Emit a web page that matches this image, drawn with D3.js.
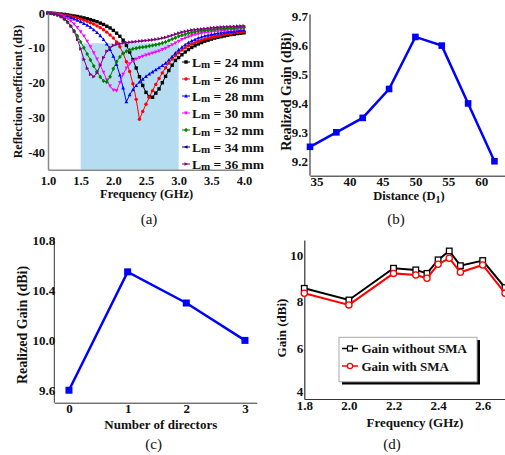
<!DOCTYPE html>
<html><head><meta charset="utf-8">
<script src="https://cdn.jsdelivr.net/npm/d3@7"></script>
<style>
body{margin:0;background:#fff;}
svg{display:block;}
text{font-family:"Liberation Serif","Times New Roman",serif;font-weight:bold;fill:#111;}
</style></head>
<body>
<script>
// ---------- Panel (a) data ----------
const freqA = [1.00,1.05,1.10,1.15,1.20,1.25,1.30,1.35,1.40,1.45,1.50,1.55,1.60,1.65,1.70,1.75,1.80,1.85,1.90,1.95,
2.00,2.05,2.10,2.15,2.20,2.25,2.30,2.35,2.40,2.45,2.50,2.55,2.60,2.65,2.70,2.75,2.80,2.85,2.90,2.95,
3.00,3.05,3.10,3.15,3.20,3.25,3.30,3.35,3.40,3.45,3.50,3.55,3.60,3.65,3.70,3.75,3.80,3.85,3.90,3.95,4.00];
const lm24 = [0,-0.05,-0.1,-0.2,-0.3,-0.4,-0.55,-0.7,-0.85,-1.0,-1.2,-1.4,-1.65,-1.9,-2.2,-2.5,-2.9,-3.3,-3.8,-4.3,
-5.0,-5.8,-6.7,-7.8,-9.3,-11.2,-13.4,-15.8,-18.3,-20.8,-22.8,-24.0,-24.2,-23.0,-21.8,-20.0,-18.2,-16.5,-15.0,-13.6,
-12.8,-12.0,-11.2,-10.5,-9.9,-9.4,-8.9,-8.5,-8.1,-7.8,-7.5,-7.2,-7.0,-6.8,-6.6,-6.4,-6.2,-6.1,-5.9,-5.8,-5.7];
const lm26 = [0,-0.05,-0.15,-0.25,-0.4,-0.55,-0.75,-0.95,-1.2,-1.45,-1.75,-2.05,-2.4,-2.8,-3.2,-3.7,-4.2,-4.8,-5.5,-6.3,
-7.2,-8.3,-9.7,-11.6,-14.0,-16.8,-20.3,-24.8,-30.5,-28.3,-26.2,-24.2,-22.3,-20.5,-18.8,-17.2,-15.7,-14.4,-13.2,-12.2,
-11.4,-10.6,-10.0,-9.4,-8.9,-8.5,-8.1,-7.8,-7.5,-7.2,-7.0,-6.8,-6.6,-6.4,-6.2,-6.0,-5.9,-5.7,-5.6,-5.5,-5.4];
const lm28 = [0,-0.05,-0.2,-0.35,-0.55,-0.8,-1.05,-1.35,-1.7,-2.1,-2.5,-3.0,-3.5,-4.1,-4.8,-5.6,-6.5,-7.6,-8.9,-10.5,
-12.4,-14.8,-17.8,-21.5,-25.5,-23.5,-22.0,-20.8,-19.8,-19.0,-18.2,-17.5,-16.9,-16.3,-15.7,-15.1,-14.4,-13.5,-12.5,-11.5,
-10.6,-9.8,-9.1,-8.5,-8.0,-7.6,-7.2,-6.9,-6.6,-6.4,-6.2,-6.0,-5.8,-5.7,-5.5,-5.4,-5.3,-5.2,-5.1,-5.0,-4.9];
const lm30 = [0,-0.1,-0.2,-0.4,-0.7,-1.1,-1.6,-2.3,-3.2,-4.2,-5.4,-6.6,-8.1,-9.7,-11.4,-13.2,-15.0,-17.0,-19.2,-21.0,
-22.1,-22.3,-20.0,-17.6,-15.8,-14.6,-13.8,-13.2,-12.8,-12.4,-12.1,-11.8,-11.5,-11.2,-10.9,-10.5,-10.1,-9.6,-9.1,-8.6,
-8.1,-7.6,-7.2,-6.8,-6.5,-6.2,-6.0,-5.8,-5.6,-5.5,-5.4,-5.3,-5.2,-5.1,-5.0,-4.9,-4.8,-4.7,-4.65,-4.6,-4.5];
const lm32 = [0,-0.1,-0.3,-0.6,-1.1,-1.8,-2.7,-3.8,-5.1,-6.6,-8.3,-10.0,-11.8,-13.5,-15.2,-16.8,-18.4,-19.5,-19.8,-18.3,
-16.0,-14.0,-12.6,-11.6,-11.0,-10.6,-10.3,-10.1,-9.9,-9.8,-9.7,-9.5,-9.3,-9.1,-8.9,-8.6,-8.3,-7.9,-7.5,-7.1,
-6.7,-6.4,-6.1,-5.8,-5.6,-5.4,-5.2,-5.1,-5.0,-4.9,-4.8,-4.7,-4.6,-4.55,-4.5,-4.4,-4.35,-4.3,-4.2,-4.15,-4.1];
const lm34 = [];
const lm36 = [0,-0.1,-0.3,-0.6,-1.0,-1.6,-2.5,-3.7,-5.3,-7.6,-10.3,-13.3,-15.9,-17.6,-18.3,-17.2,-15.0,-12.8,-11.0,-9.9,
-9.3,-9.0,-8.8,-8.6,-8.5,-8.4,-8.3,-8.2,-8.1,-8.0,-7.9,-7.8,-7.7,-7.6,-7.4,-7.2,-7.0,-6.7,-6.4,-6.1,
-5.8,-5.5,-5.3,-5.1,-4.9,-4.8,-4.7,-4.6,-4.5,-4.4,-4.3,-4.2,-4.1,-4.05,-4.0,-3.95,-3.9,-3.85,-3.8,-3.75,-3.7];
const lmLengths = [24,26,28,30,32,34,36];
const lmColors = ["#000000","#ff0000","#0000ff","#ff00ff","#008000","#000080","#800080"];
const lmSymbols = ["square","circle","triUp","triDown","diamond","triLeft","triRight"];
const aXTicks = [1.0,1.5,2.0,2.5,3.0,3.5,4.0];
const aYTicks = [0,-10,-20,-30,-40];
const bandRange = [1.5, 3.0];
const bandTop = -8.7;

// ---------- Panel (b) data ----------
const distance = [34,38,42,46,50,54,58,62];
const gainB = [9.25,9.30,9.35,9.45,9.63,9.60,9.40,9.20];
const bXTicks = [35,40,45,50,55,60];
const bYTicks = [9.2,9.3,9.4,9.5,9.6,9.7];

// ---------- Panel (c) data ----------
const directors = [0,1,2,3];
const gainC = [9.6,10.55,10.3,10.0];
const cYTicks = [9.6,10.0,10.4,10.8];

// ---------- Panel (d) data ----------
const freqD = [1.8,2.0,2.2,2.3,2.35,2.4,2.45,2.5,2.6,2.7];
const gainNoSMA = [8.57,8.07,9.43,9.36,9.21,9.79,10.17,9.54,9.76,8.6];
const gainSMA = [8.36,7.86,9.21,9.14,9.0,9.6,9.86,9.26,9.57,8.36];
const dXTicks = [1.8,2.0,2.2,2.4,2.6];
const dYTicks = [4,6,8,10];

const svg = d3.select("body").append("svg").attr("width",505).attr("height",455);

function symPath(kind, s){
  const h = s/2;
  switch(kind){
    case "square": return `M${-h},${-h}h${s}v${s}h${-s}Z`;
    case "circle": return d3.symbol(d3.symbolCircle, s*s*0.8)();
    case "diamond": return `M0,${-h*1.3}L${h*1.1},0L0,${h*1.3}L${-h*1.1},0Z`;
    case "triUp": return `M0,${-h*1.2}L${h*1.1},${h*0.9}L${-h*1.1},${h*0.9}Z`;
    case "triDown": return `M0,${h*1.2}L${h*1.1},${-h*0.9}L${-h*1.1},${-h*0.9}Z`;
    case "triLeft": return `M${-h*1.2},0L${h*0.9},${-h*1.1}L${h*0.9},${h*1.1}Z`;
    case "triRight": return `M${h*1.2},0L${-h*0.9},${-h*1.1}L${-h*0.9},${h*1.1}Z`;
  }
}

function styleAxis(g, color, width){
  g.select(".domain").attr("stroke",color).attr("stroke-width",width);
  g.selectAll(".tick line").remove();
  g.selectAll("text").attr("font-family",null).attr("fill","#111");
}

// ================= Panel (a) =================
{
  const x = d3.scaleLinear().domain([1,4]).range([48,244]);
  const y = d3.scaleLinear().domain([-45,0]).range([169.7,13]);
  const g = svg.append("g");
  g.append("rect").attr("x",x(bandRange[0])).attr("y",y(bandTop))
    .attr("width",x(bandRange[1])-x(bandRange[0])).attr("height",y(-45)-y(bandTop))
    .attr("fill","#b5dcf1");
  const series = [lm24,lm26,lm28,lm30,lm32,lm34,lm36];
  const line = d3.line().x((d,i)=>x(freqA[i])).y(d=>y(d));
  series.forEach((vals,k)=>{
    if(!vals.length) return;
    g.append("path").attr("d",line(vals)).attr("fill","none")
      .attr("stroke",lmColors[k]).attr("stroke-width",1);
    g.selectAll(null).data(vals).enter().append("path")
      .attr("transform",(d,i)=>`translate(${x(freqA[i])},${y(d)})`)
      .attr("d",symPath(lmSymbols[k],3.4)).attr("fill",lmColors[k]);
  });
  const xa = g.append("g").attr("transform",`translate(0,${y(-45)})`)
    .call(d3.axisBottom(x).tickValues(aXTicks).tickFormat(d3.format(".1f")).tickSizeOuter(0).tickSize(0).tickPadding(6));
  styleAxis(xa,"#888",1.5); xa.selectAll("text").attr("font-size",12.5);
  const ya = g.append("g").attr("transform",`translate(${x(1)},0)`)
    .call(d3.axisLeft(y).tickValues(aYTicks).tickFormat(d=>String(d)).tickSizeOuter(0).tickSize(0).tickPadding(3));
  styleAxis(ya,"#888",1.5); ya.selectAll("text").attr("font-size",12.5);
  g.append("text").attr("x",146.7).attr("y",198).attr("text-anchor","middle").attr("font-size",12.5).text("Frequency (GHz)");
  g.append("text").attr("transform","translate(22,91.7) rotate(-90)").attr("text-anchor","middle").attr("font-size",12).text("Reflection coefficient (dB)");
  // legend
  lmLengths.forEach((L,k)=>{
    const ly = 62 + k*17;
    g.append("line").attr("x1",182).attr("x2",190).attr("y1",ly).attr("y2",ly).attr("stroke",lmColors[k]).attr("stroke-width",1);
    g.append("path").attr("transform",`translate(186,${ly})`).attr("d",symPath(lmSymbols[k],3.4)).attr("fill",lmColors[k]);
    const t = g.append("text").attr("x",192).attr("y",ly+4.5).attr("font-size",13.5);
    t.append("tspan").text("L");
    t.append("tspan").attr("font-size",11).attr("dy",1.5).text("m");
    t.append("tspan").attr("dy",-1.5).text(` = ${L} mm`);
  });
  svg.append("text").attr("x",149).attr("y",224).attr("text-anchor","middle").attr("font-size",15).style("font-weight","normal").text("(a)");
}

// ================= Panel (b) =================
{
  const x = d3.scaleLinear().domain([34,63.6]).range([310,505]);
  const y = d3.scaleLinear().domain([9.15,9.7]).range([175.7,16.7]);
  const g = svg.append("g");
  const xa = g.append("g").attr("transform",`translate(0,${y(9.15)})`)
    .call(d3.axisBottom(x).tickValues(bXTicks).tickFormat(d3.format("d")).tickSizeOuter(0).tickSize(0).tickPadding(1));
  styleAxis(xa,"#666",1.5); xa.selectAll("text").attr("font-size",13);
  const ya = g.append("g").attr("transform",`translate(310,0)`)
    .call(d3.axisLeft(y).tickValues(bYTicks).tickFormat(d3.format(".1f")).tickSizeOuter(0).tickSize(0).tickPadding(2));
  styleAxis(ya,"#666",1.5); ya.selectAll("text").attr("font-size",13);
  ya.select(".domain").attr("d","M0,14.5V175.7");
  const line = d3.line().x((d,i)=>x(distance[i])).y(d=>y(d));
  g.append("path").attr("d",line(gainB)).attr("fill","none").attr("stroke","#0000ff").attr("stroke-width",2.5);
  g.selectAll(null).data(gainB).enter().append("rect")
    .attr("x",(d,i)=>x(distance[i])-3.3).attr("y",d=>y(d)-3.3).attr("width",6.6).attr("height",6.6).attr("fill","#0000ff");
  const t = g.append("text").attr("x",409).attr("y",200).attr("text-anchor","middle").attr("font-size",12.5);
  t.append("tspan").text("Distance (D");
  t.append("tspan").attr("font-size",10).attr("dy",2.5).text("1");
  t.append("tspan").attr("dy",-2.5).text(")");
  g.append("text").attr("transform","translate(291,91.7) rotate(-90)").attr("text-anchor","middle").attr("font-size",14).text("Realized Gain (dBi)");
  svg.append("text").attr("x",396).attr("y",224).attr("text-anchor","middle").attr("font-size",15).style("font-weight","normal").text("(b)");
}

// ================= Panel (c) =================
{
  const x = d3.scaleLinear().domain([-0.25,3.2]).range([54.3,256.7]);
  const y = d3.scaleLinear().domain([9.5,10.8]).range([402.7,240.7]);
  const g = svg.append("g");
  const xa = g.append("g").attr("transform",`translate(0,402.7)`)
    .call(d3.axisBottom(x).tickValues(directors).tickFormat(d3.format("d")).tickSizeOuter(0).tickSize(0).tickPadding(1));
  styleAxis(xa,"#333",1); xa.selectAll("text").attr("font-size",13);
  const ya = g.append("g").attr("transform",`translate(54.3,0)`)
    .call(d3.axisLeft(y).tickValues(cYTicks).tickFormat(d3.format(".1f")).tickSizeOuter(0).tickSize(0).tickPadding(-1));
  styleAxis(ya,"#333",1); ya.selectAll("text").attr("font-size",13);
  ya.select(".domain").attr("d","M0,238.5V402.7");
  const line = d3.line().x((d,i)=>x(directors[i])).y(d=>y(d));
  g.append("path").attr("d",line(gainC)).attr("fill","none").attr("stroke","#0000ff").attr("stroke-width",2.5);
  g.selectAll(null).data(gainC).enter().append("rect")
    .attr("x",(d,i)=>x(directors[i])-3.5).attr("y",d=>y(d)-3.5).attr("width",7).attr("height",7).attr("fill","#0000ff");
  g.append("text").attr("x",160.8).attr("y",428.5).attr("text-anchor","middle").attr("font-size",13).text("Number of directors");
  g.append("text").attr("transform","translate(27,325) rotate(-90)").attr("text-anchor","middle").attr("font-size",14).text("Realized Gain (dBi)");
  svg.append("text").attr("x",153.7).attr("y",449).attr("text-anchor","middle").attr("font-size",15).style("font-weight","normal").text("(c)");
}

// ================= Panel (d) =================
{
  const x = d3.scaleLinear().domain([1.8,2.7]).range([304.3,505]);
  const y = d3.scaleLinear().domain([3.83,10.64]).range([399,240]);
  const g = svg.append("g");
  const xa = g.append("g").attr("transform",`translate(0,399)`)
    .call(d3.axisBottom(x).tickValues(dXTicks).tickFormat(d3.format(".1f")).tickSizeOuter(0).tickSize(0).tickPadding(2));
  styleAxis(xa,"#333",1.2); xa.selectAll("text").attr("font-size",13);
  const ya = g.append("g").attr("transform",`translate(304.3,0)`)
    .call(d3.axisLeft(y).tickValues(dYTicks).tickFormat(d3.format("d")).tickSizeOuter(0).tickSize(0).tickPadding(1));
  styleAxis(ya,"#333",1.2); ya.selectAll("text").attr("font-size",13);
  ya.selectAll(".tick text").filter(d=>d===4).attr("dy","0.05em");
  const series = [{v:gainNoSMA,c:"#000000",s:"square"},{v:gainSMA,c:"#ff0000",s:"circle"}];
  series.forEach(se=>{
    const line = d3.line().x((d,i)=>x(freqD[i])).y(d=>y(d));
    g.append("path").attr("d",line(se.v)).attr("fill","none").attr("stroke",se.c).attr("stroke-width",2);
    se.v.forEach((d,i)=>{
      if(se.s==="square") g.append("rect").attr("x",x(freqD[i])-2.8).attr("y",y(d)-2.8).attr("width",5.6).attr("height",5.6)
        .attr("fill","#fff").attr("stroke",se.c).attr("stroke-width",1.3);
      else g.append("circle").attr("cx",x(freqD[i])).attr("cy",y(d)).attr("r",3.1)
        .attr("fill","#fff").attr("stroke",se.c).attr("stroke-width",1.3);
    });
  });
  // legend
  g.append("rect").attr("x",342).attr("y",340).attr("width",138).attr("height",44.5).attr("fill","#000");
  g.append("rect").attr("x",339).attr("y",337.3).attr("width",138).attr("height",44.5).attr("fill","#fff").attr("stroke","#aaa").attr("stroke-width",1);
  const labels = ["Gain without SMA","Gain with SMA"];
  labels.forEach((lab,k)=>{
    const ly = 348.5 + k*17.5;
    const se = series[k];
    g.append("line").attr("x1",342).attr("x2",358).attr("y1",ly).attr("y2",ly).attr("stroke",se.c).attr("stroke-width",1.5);
    if(k===0) g.append("rect").attr("x",347.5).attr("y",ly-2.5).attr("width",5).attr("height",5).attr("fill","#fff").attr("stroke",se.c).attr("stroke-width",1.2);
    else g.append("circle").attr("cx",350).attr("cy",ly).attr("r",2.6).attr("fill","#fff").attr("stroke",se.c).attr("stroke-width",1.2);
    g.append("text").attr("x",361.5).attr("y",ly+4.5).attr("font-size",13).text(lab);
  });
  g.append("text").attr("x",415).attr("y",426.5).attr("text-anchor","middle").attr("font-size",13).text("Frequency (GHz)");
  g.append("text").attr("transform","translate(286,328) rotate(-90)").attr("text-anchor","middle").attr("font-size",13).text("Gain (dBi)");
  svg.append("text").attr("x",392).attr("y",449).attr("text-anchor","middle").attr("font-size",15).style("font-weight","normal").text("(d)");
}
</script>
</body></html>
